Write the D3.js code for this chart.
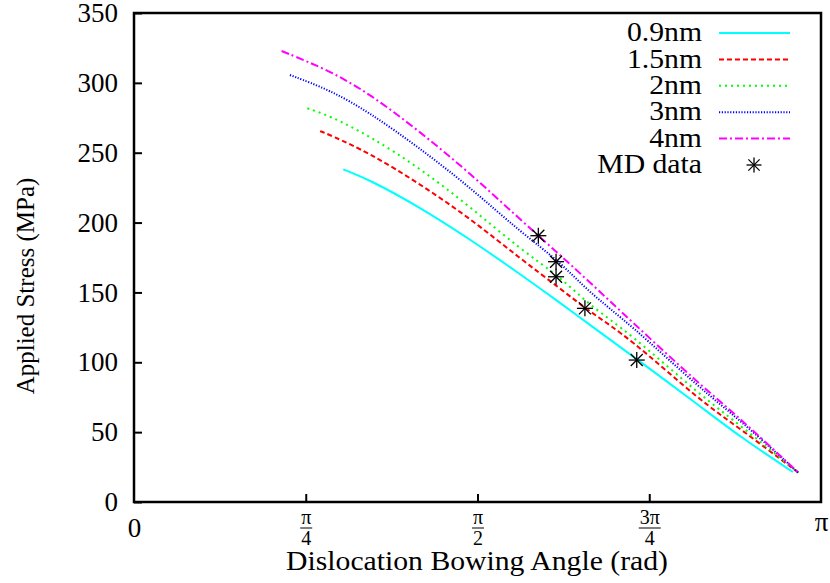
<!DOCTYPE html>
<html>
<head>
<meta charset="utf-8">
<script src="https://cdn.jsdelivr.net/npm/d3@7"></script>
<style>
  body { margin: 0; background: #fff; }
  text { font-family: "Liberation Serif", "DejaVu Serif", serif; fill: #000; }
</style>
</head>
<body>
<div id="chart"></div>
<script>
// data: [angle (rad), stress (MPa)]
const series = ["0.9nm", "1.5nm", "2nm", "3nm", "4nm"];
const colors = ["#00ffff", "#ff0000", "#00ff00", "#0000ff", "#ff00ff"];
const dashes = [null, "5,3", "2,4", "1.2,1.6", "8,3,2,3"];

const curve09 = [[0.957, 238.1], [1.079, 230.5], [1.308, 210.9], [1.537, 188.0], [1.765, 163.2],
  [1.948, 142.6], [2.085, 126.7], [2.268, 105.9], [2.588, 68.7], [2.771, 46.7], [3.013, 21.5]];
const curve15 = [[0.851, 265.5], [0.896, 262.7], [1.079, 249.6], [1.308, 227.6], [1.537, 203.0],
  [1.765, 174.4], [1.948, 152.9], [2.085, 136.0], [2.268, 117.2], [2.588, 72.5], [2.771, 52.7],
  [3.038, 21.0]];
const curve2 = [[0.793, 281.8], [0.896, 276.3], [1.079, 261.9], [1.308, 238.8], [1.537, 211.3],
  [1.765, 181.1], [1.948, 161.2], [2.085, 140.5], [2.268, 120.7], [2.588, 76.6], [2.771, 55.1],
  [3.038, 21.0]];
const curve3 = [[0.713, 305.6], [0.896, 294.9], [1.079, 278.6], [1.308, 253.1], [1.537, 225.2],
  [1.765, 193.5], [1.948, 172.0], [2.085, 149.4], [2.268, 127.4], [2.588, 81.4], [2.771, 58.7],
  [3.038, 21.0]];
const curve4 = [[0.675, 322.8], [0.896, 308.7], [1.079, 292.0], [1.308, 265.0], [1.537, 235.3],
  [1.765, 202.3], [1.948, 176.8], [2.085, 157.2], [2.268, 130.3], [2.588, 84.0], [2.771, 60.0],
  [3.038, 21.0]];
const curves = [curve09, curve15, curve2, curve3, curve4];

const mdAngle = [1.849, 1.930, 1.930, 2.062, 2.299];
const mdStress = [190.6, 172.0, 161.2, 138.6, 101.6];

const yTicks = [0, 50, 100, 150, 200, 250, 300, 350];
const xTicks = [0, Math.PI / 4, Math.PI / 2, 3 * Math.PI / 4, Math.PI];
const xTickNum = ["0", "π", "π", "3π", "π"];
const xTickDen = [null, "4", "2", "4", null];

const width = 830, height = 583;
const margin = { top: 13, right: 9, bottom: 81, left: 134 };
const innerWidth = width - margin.left - margin.right;
const innerHeight = height - margin.top - margin.bottom;
const fontSize = "27px";

// stretch Liberation Serif a bit so it runs about as wide as Computer Modern
const widen = (sel, f) => sel.each(function() {
  const w = this.getComputedTextLength();
  d3.select(this).attr("textLength", w * f).attr("lengthAdjust", "spacingAndGlyphs");
});

const svg = d3.select("#chart").append("svg")
  .attr("width", width)
  .attr("height", height);

const g = svg.append("g")
  .attr("transform", `translate(${margin.left},${margin.top})`);

const x = d3.scaleLinear().domain([0, Math.PI]).range([0, innerWidth]);
const y = d3.scaleLinear().domain([0, 350]).range([innerHeight, 0]);

// y axis, ticks pointing inward
const yAxis = g.append("g")
  .call(d3.axisLeft(y).tickValues(yTicks).tickSize(-8).tickPadding(16));
yAxis.select(".domain").remove();
yAxis.selectAll("line").attr("stroke", "#000").attr("stroke-width", 2);
yAxis.selectAll("text").style("font-size", fontSize).attr("dy", "0.32em");

// x axis with fraction labels
const xAxis = g.append("g")
  .attr("transform", `translate(0,${innerHeight})`)
  .call(d3.axisBottom(x).tickValues(xTicks).tickSize(-8).tickFormat(""));
xAxis.select(".domain").remove();
xAxis.selectAll("line").attr("stroke", "#000").attr("stroke-width", 2);
xAxis.selectAll(".tick").each(function(d, i) {
  const t = d3.select(this);
  if (i === 0 || i === xTicks.length - 1) t.select("line").remove();
  if (xTickDen[i] === null) {
    t.append("text").attr("y", i === 0 ? 35 : 29).attr("text-anchor", "middle")
      .style("font-size", fontSize).text(xTickNum[i]);
  } else {
    const half = xTickNum[i].length > 1 ? 11 : 6;
    t.append("text").attr("y", 22).attr("text-anchor", "middle")
      .style("font-size", "20px").text(xTickNum[i]);
    t.append("line").attr("x1", -half).attr("x2", half).attr("y1", 26).attr("y2", 26)
      .attr("stroke", "#000").attr("stroke-width", 1);
    t.append("text").attr("y", 43).attr("text-anchor", "middle")
      .style("font-size", "20px").text(xTickDen[i]);
  }
});

// curves
const line = d3.line()
  .x(d => x(d[0]))
  .y(d => y(d[1]))
  .curve(d3.curveBasis);

curves.forEach((c, i) => {
  g.append("path")
    .datum(c)
    .attr("fill", "none")
    .attr("stroke", colors[i])
    .attr("stroke-width", 2)
    .attr("stroke-dasharray", dashes[i])
    .attr("d", line);
});

// asterisk marker
const star = (sel, cx, cy, r) => {
  const a = sel.append("g").attr("transform", `translate(${cx},${cy})`)
    .attr("stroke", "#000").attr("stroke-width", 1.3);
  a.append("line").attr("x1", -r).attr("x2", r);
  a.append("line").attr("y1", -r).attr("y2", r);
  a.append("line").attr("x1", -r * 0.75).attr("y1", -r * 0.75).attr("x2", r * 0.75).attr("y2", r * 0.75);
  a.append("line").attr("x1", -r * 0.75).attr("y1", r * 0.75).attr("x2", r * 0.75).attr("y2", -r * 0.75);
};
mdAngle.forEach((a, i) => star(g, x(a), y(mdStress[i]), 8));

// legend
const legend = svg.append("g");
const labels = series.concat(["MD data"]);
labels.forEach((name, i) => {
  const cy = 33 + i * 26.4;
  legend.append("text")
    .attr("x", 702).attr("y", cy).attr("dy", "0.3em")
    .attr("text-anchor", "end").style("font-size", fontSize)
    .text(name)
    .call(widen, 1.1);
  if (i < series.length) {
    legend.append("line")
      .attr("x1", 719).attr("x2", 790).attr("y1", cy).attr("y2", cy)
      .attr("stroke", colors[i]).attr("stroke-width", 2)
      .attr("stroke-dasharray", dashes[i]);
  } else {
    star(legend, 754, cy, 7.5);
  }
});

// frame
g.append("rect")
  .attr("width", innerWidth).attr("height", innerHeight)
  .attr("fill", "none").attr("stroke", "#000").attr("stroke-width", 2.5);

// axis titles
svg.append("text")
  .attr("x", 477).attr("y", 570)
  .attr("text-anchor", "middle").style("font-size", fontSize)
  .text("Dislocation Bowing Angle (rad)")
  .call(widen, 1.1);

svg.append("text")
  .attr("transform", `translate(34,286) rotate(-90)`)
  .attr("text-anchor", "middle").style("font-size", "25px")
  .text("Applied Stress (MPa)");
</script>
</body>
</html>
